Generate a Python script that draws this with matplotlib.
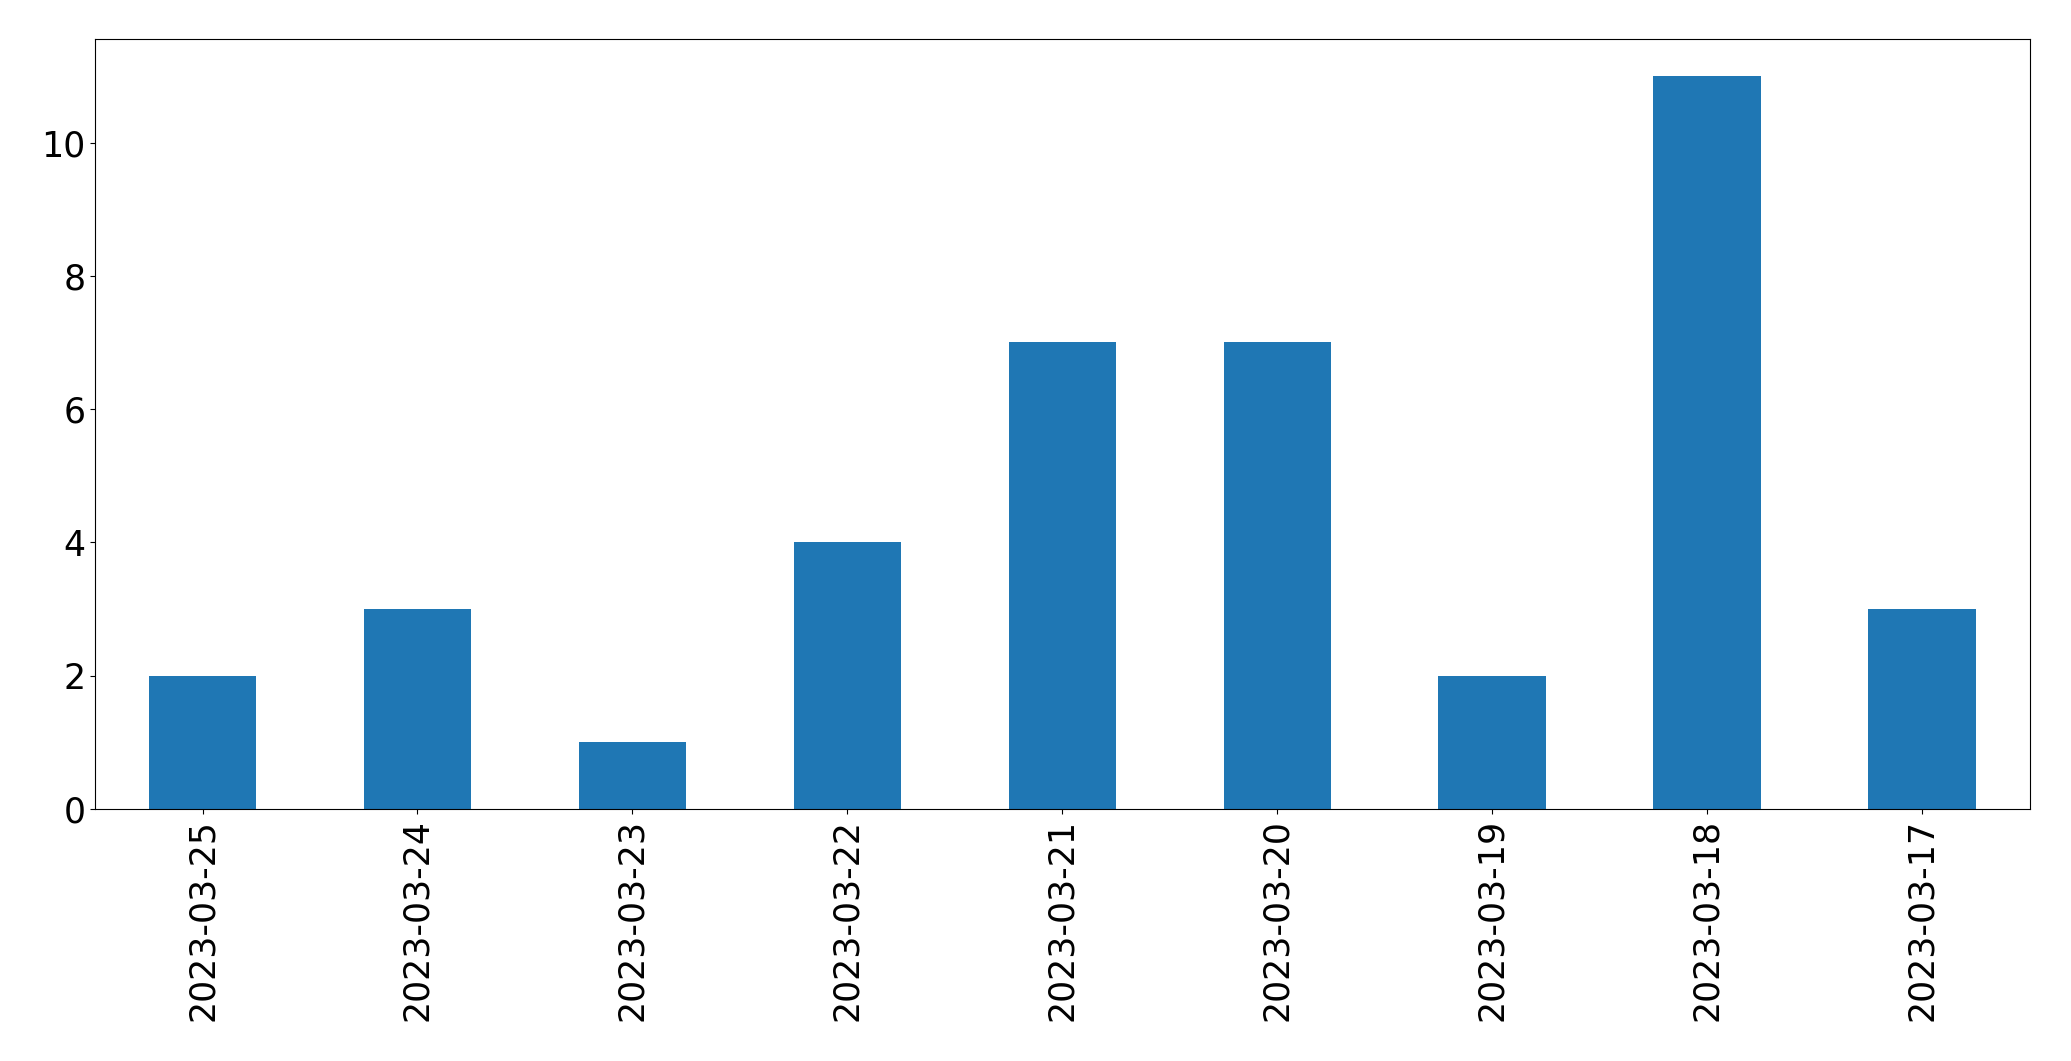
import pandas as pd
import matplotlib
matplotlib.use('Agg')
import matplotlib.pyplot as plt

dates = ['2023-03-25', '2023-03-24', '2023-03-23', '2023-03-22', '2023-03-21',
         '2023-03-20', '2023-03-19', '2023-03-18', '2023-03-17']
counts = [2, 3, 1, 4, 7, 7, 2, 11, 3]

data = pd.Series(counts, index=dates)

fig, ax = plt.subplots(figsize=(20.71, 10.61), dpi=100)
data.plot(kind='bar', ax=ax, color='#1f77b4', fontsize=25)
fig.subplots_adjust(left=0.0459, right=0.980, top=0.963, bottom=0.2375)
fig.savefig('out.png', dpi=100)
